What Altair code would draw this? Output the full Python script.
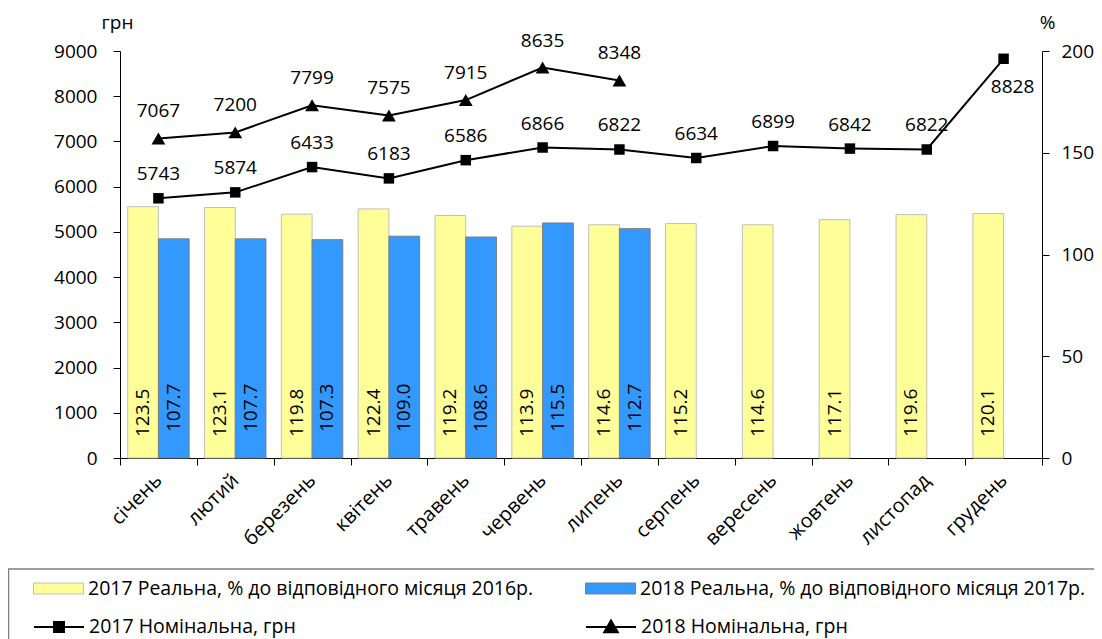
import altair as alt
import pandas as pd

months = ["січень", "лютий", "березень", "квітень", "травень", "червень",
          "липень", "серпень", "вересень", "жовтень", "листопад", "грудень"]
real_2017 = [123.5, 123.1, 119.8, 122.4, 119.2, 113.9, 114.6, 115.2, 114.6, 117.1, 119.6, 120.1]
real_2018 = [107.7, 107.7, 107.3, 109.0, 108.6, 115.5, 112.7]
nominal_2017 = [5743, 5874, 6433, 6183, 6586, 6866, 6822, 6634, 6899, 6842, 6822, 8828]
nominal_2018 = [7067, 7200, 7799, 7575, 7915, 8635, 8348]

lab_r17 = "2017 Реальна, % до відповідного місяця 2016р."
lab_r18 = "2018 Реальна, % до відповідного місяця 2017р."
lab_n17 = "2017 Номінальна, грн"
lab_n18 = "2018 Номінальна, грн"

FONT = "Open Sans"
FS = 19
FS_LEG = 19.5
FS_MONTH = 20


def frame(vals, year, label):
    return pd.DataFrame({"month": months[:len(vals)], "year": year,
                         "series": label, "value": vals})


df_r17 = frame(real_2017, "2017", lab_r17)
df_r18 = frame(real_2018, "2018", lab_r18)
df_n17 = frame(nominal_2017, "2017", lab_n17)
df_n18 = frame(nominal_2018, "2018", lab_n18)

common_axis = dict(labelFont=FONT, labelColor="black",
                   tickColor="black", domainColor="black", tickSize=7,
                   grid=False, titleFont=FONT, titleFontSize=FS,
                   titleColor="black", titleFontWeight="normal")

xaxis = alt.Axis(title=None, labelAngle=-45, labelAlign="right",
                 labelBaseline="middle", labelPadding=12, tickBand="extent",
                 labelFontSize=FS_MONTH, **common_axis)
X = alt.X("month:N", sort=months,
          scale=alt.Scale(paddingInner=0, paddingOuter=0), axis=xaxis)
XO = alt.XOffset("year:N", sort=["2017", "2018"],
                 scale=alt.Scale(domain=["2017", "2018"], paddingInner=0, paddingOuter=0.25))

yP = alt.Scale(domain=[0, 200], nice=False)
yG = alt.Scale(domain=[0, 9000], nice=False)

yP_axis = alt.Axis(orient="right", values=[0, 50, 100, 150, 200], title="%",
                   format="d", titleAngle=0, titleX=5, titleY=-29,
                   titleAlign="center", titleBaseline="middle", labelPadding=12,
                   labelFontSize=FS, **common_axis)
yG_axis = alt.Axis(orient="left", values=list(range(0, 9001, 1000)), title="грн",
                   format="d", titleAngle=0, titleX=-3, titleY=-29,
                   titleAlign="center", titleBaseline="middle", labelPadding=16,
                   labelFontSize=FS, **common_axis)

BAR_PATH = "M-1,-0.22H1V0.22H-1Z"
SQ_PATH = "M-1,0H1M-0.2,-0.2H0.2V0.2H-0.2Z"
TRI_PATH = "M-1,0H1M0,-0.26L0.27,0.21H-0.27Z"


def leg(x, y, sym, **extra):
    return alt.Legend(title=None, orient="none", legendX=x, legendY=y,
                      symbolType=sym, symbolSize=2500, labelFont=FONT,
                      labelFontSize=FS_LEG, labelColor="black", labelOffset=4,
                      labelLimit=0, padding=0, **extra)


ROW1 = 512
ROW2 = 550
COL1 = -87
COL2 = 465

bars17 = alt.Chart(df_r17).mark_bar(stroke="#BFBFBF", strokeWidth=1).encode(
    x=X, xOffset=XO,
    y=alt.Y("value:Q", scale=yP, axis=yP_axis),
    fill=alt.Fill("series:N", scale=alt.Scale(domain=[lab_r17], range=["#FFFF99"]),
                  legend=leg(COL1, ROW1, BAR_PATH, symbolStrokeColor="#BFBFBF",
                             symbolStrokeWidth=1)),
)
bars18 = alt.Chart(df_r18).mark_bar(stroke="#7F7F7F", strokeWidth=1).encode(
    x=X, xOffset=XO,
    y=alt.Y("value:Q", scale=yP, axis=None),
    fill=alt.Fill("series:N", scale=alt.Scale(domain=[lab_r18], range=["#3399FF"]),
                  legend=leg(COL2, ROW1, BAR_PATH, symbolStrokeColor="#7F7F7F",
                             symbolStrokeWidth=1)),
)


def bar_labels(df, shift):
    return alt.Chart(df).transform_calculate(zero="0").mark_text(
        angle=270, align="left", baseline="middle", dx=shift,
        font=FONT, fontSize=FS, color="black").encode(
        x=X, xOffset=XO,
        y=alt.Y("zero:Q", scale=yP, axis=None),
        text=alt.Text("value:Q", format=".1f"),
    )


blab17 = bar_labels(df_r17, 21)
blab18 = bar_labels(df_r18, 26)

line17 = alt.Chart(df_n17).mark_line(strokeWidth=2).encode(
    x=X,
    y=alt.Y("value:Q", scale=yG, axis=yG_axis),
    stroke=alt.Stroke("series:N", scale=alt.Scale(domain=[lab_n17], range=["black"]),
                      legend=leg(COL1, ROW2, SQ_PATH, symbolStrokeWidth=2,
                                 symbolFillColor="black", symbolStrokeColor="black")),
)
line18 = alt.Chart(df_n18).mark_line(strokeWidth=2).encode(
    x=X,
    y=alt.Y("value:Q", scale=yG, axis=None),
    stroke=alt.Stroke("series:N", scale=alt.Scale(domain=[lab_n18], range=["black"]),
                      legend=leg(COL2, ROW2, TRI_PATH, symbolStrokeWidth=2,
                                 symbolFillColor="black", symbolStrokeColor="black")),
)

pts17 = alt.Chart(df_n17).mark_point(shape="square", filled=True, size=110,
                                     color="black", opacity=1).encode(
    x=X, y=alt.Y("value:Q", scale=yG, axis=None))
pts18 = alt.Chart(df_n18).mark_point(shape="triangle-up", filled=True, size=190,
                                     color="black", opacity=1).encode(
    x=X, y=alt.Y("value:Q", scale=yG, axis=None))


def num_labels(df, dx, dy, cond):
    return alt.Chart(df).transform_filter(cond).mark_text(
        dx=dx, dy=dy, baseline="middle", align="center", font=FONT,
        fontSize=FS, color="black").encode(
        x=X, y=alt.Y("value:Q", scale=yG, axis=None),
        text=alt.Text("value:Q", format="d"))


nlab17 = num_labels(df_n17, 0, -24, alt.datum.month != "грудень")
nlab17_dec = num_labels(df_n17, 9, 28, alt.datum.month == "грудень")
nlab18 = num_labels(df_n18, 0, -27, alt.datum.month != "грудень")

frame_box = alt.Chart(alt.Data(values=[{"a": 1}])).mark_rect(
    fillOpacity=0, stroke="#7F7F7F", strokeWidth=1.5).encode(
    x=alt.value(-111.5), x2=alt.value(1100), y=alt.value(518), y2=alt.value(800))

chart = alt.layer(
    bars17, bars18, blab17, blab18,
    line17, line18, pts17, pts18, nlab17, nlab17_dec, nlab18, frame_box,
).resolve_scale(
    y="independent", fill="independent", stroke="independent"
).properties(
    width=922, height=407,
    autosize=alt.AutoSizeParams(type="none"),
    padding={"left": 112, "top": 43, "right": 52, "bottom": 181},
).configure_view(strokeWidth=0)

chart.save("out.html", embed_options={"renderer": "svg", "actions": False})
